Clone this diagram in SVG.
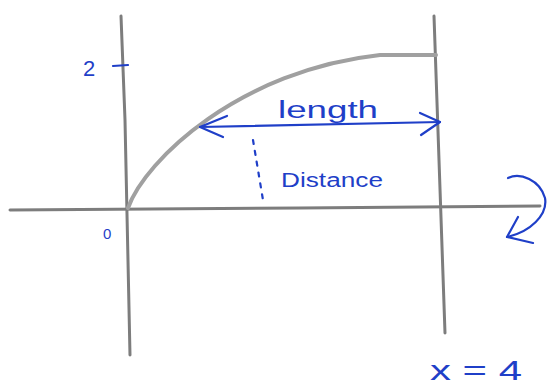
<svg xmlns="http://www.w3.org/2000/svg" width="550" height="385" viewBox="0 0 550 385">
  <style>
    .axis { stroke: #7d7d7d; stroke-width: 3; fill: none; stroke-linecap: round; }
    .curve { stroke: #a0a0a0; stroke-width: 4; fill: none; stroke-linecap: round; }
    .ink { stroke: #1f3fc8; stroke-width: 2.2; fill: none; stroke-linecap: round; stroke-linejoin: round; }
    .lbl { fill: #1f3fc8; font-family: "Liberation Sans", "DejaVu Sans", sans-serif; }
  </style>
  <rect width="550" height="385" fill="#ffffff"/>
  <g id="axes">
    <path class="axis" d="M121,16 L125,120 L130,355"/>
    <path class="axis" d="M10,210 L300,208 L540,206"/>
    <path class="axis" d="M434,16 L439,160 L445,333"/>
  </g>
  <g id="curve">
    <path class="curve" d="M128,208 C145,160 240,70 380,55 L436,55"/>
  </g>
  <g id="ticks">
    <path class="ink" d="M113,66 L128,65"/>
  </g>
  <g id="connectors">
    <g id="length-arrow">
      <path class="ink" d="M200,127 L440,122"/>
      <path class="ink" d="M227,116 L200,127 L223,137"/>
      <path class="ink" d="M420,113 L440,122 L421,135"/>
    </g>
    <path id="distance-line" class="ink" d="M253,140 L263,200" stroke-dasharray="4,7"/>
    <g id="rotate-arrow">
      <path class="ink" d="M508,178 C520,172 540,180 545,198 C548,215 530,232 507,237"/>
      <path class="ink" d="M518,217 L507,237 L533,243"/>
    </g>
  </g>
  <g id="label-2"><text class="lbl" x="83" y="76" font-size="22">2</text></g>
  <g id="label-0"><text class="lbl" x="103" y="239" font-size="15">0</text></g>
  <g id="label-length"><text class="lbl" x="278" y="118" font-size="23" textLength="100" lengthAdjust="spacingAndGlyphs">length</text></g>
  <g id="label-distance"><text class="lbl" x="281" y="187" font-size="20" textLength="102" lengthAdjust="spacingAndGlyphs">Distance</text></g>
  <g id="label-x4"><text class="lbl" x="430" y="380" font-size="28" textLength="92" lengthAdjust="spacingAndGlyphs">x = 4</text></g>
</svg>
